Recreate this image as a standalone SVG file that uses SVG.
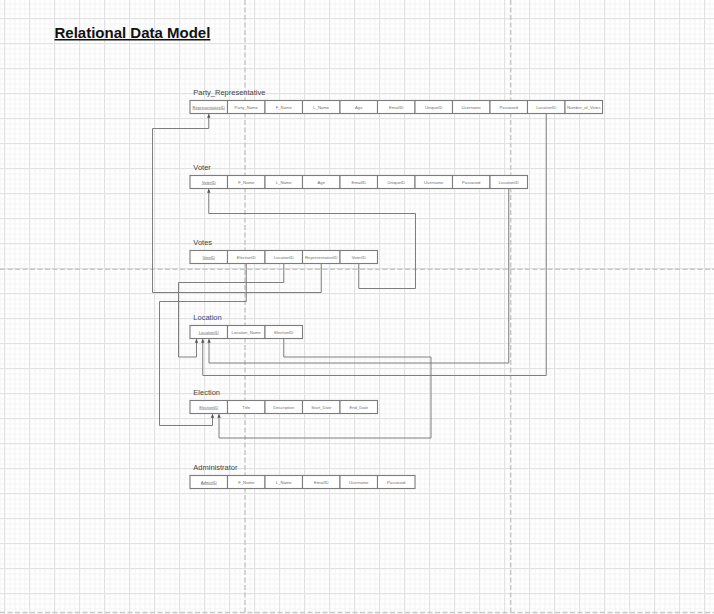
<svg xmlns="http://www.w3.org/2000/svg" width="714" height="614" viewBox="0 0 714 614">
<defs>
<pattern id="minor" width="5" height="5" patternUnits="userSpaceOnUse" x="4.5" y="3.5">
<path d="M0,0.5 H5 M0.5,0 V5" fill="none" stroke="#f3f3f3" stroke-width="1"/>
</pattern>
<pattern id="major" width="25" height="25" patternUnits="userSpaceOnUse" x="4" y="18">
<path d="M0,0.5 H25 M0.5,0 V25" fill="none" stroke="#e2e2e2" stroke-width="1"/>
</pattern>
<marker id="arr" markerWidth="4" markerHeight="4" refX="3.5" refY="2" orient="auto" markerUnits="userSpaceOnUse">
<path d="M0,0.3 L3.8,2 L0,3.7 z" fill="#555"/>
</marker>
</defs>
<style>
.pb{stroke:#c8c8c8;stroke-width:1.5;stroke-dasharray:5 2.5;fill:none}
.cell{fill:#fff;stroke:#7c7c7c;stroke-width:1.1}
.ct{font-family:"Liberation Sans",Arial,sans-serif;font-size:4.2px;fill:#707070;text-anchor:middle}
.pk{text-decoration:underline}
.ttl{font-family:"Liberation Sans",Arial,sans-serif;font-size:7.5px;fill:#444}
.conn{fill:none;stroke:#7e7e7e;stroke-width:1;marker-end:url(#arr)}
</style>
<rect width="714" height="614" fill="#fff"/>
<rect width="714" height="614" fill="url(#minor)"/>
<rect width="714" height="614" fill="url(#major)"/>
<g id="page-breaks">
<path class="pb" d="M245,0 V614 M510.7,0 V614 M0,269.3 H714 M0,612.5 H714"/>
</g>
<g id="title">
<text x="54.5" y="38" font-family="'Liberation Sans',Arial,sans-serif" font-size="15" font-weight="bold" fill="#111" text-decoration="underline">Relational Data Model</text>
</g>
<g id="connectors">
<path class="conn" d="M321.25,263.5 V292.5 H152.5 V128.5 H208.75 V114.2"/>
<path class="conn" d="M358.75,263.5 V288.5 H415.5 V213.5 H208.75 V189.2"/>
<path class="conn" d="M246.25,263.5 V301.5 H159.5 V425.5 H212.5 V414.2"/>
<path class="conn" d="M283.75,263.5 V282.5 H178.5 V357 H196.5 V339.2"/>
<path class="conn" d="M546.25,113.5 V375.5 H202.75 V339.2"/>
<path class="conn" d="M508.75,188.5 V363 H209 V339.2"/>
<path class="conn" d="M283.75,338.5 V357 H431 V438 H219 V414.2"/>
</g>
<g id="party_representative">
<text class="ttl" x="193.3" y="95.3">Party_Representative</text>
<rect class="cell" x="190" y="100.5" width="37.5" height="13"/><text class="ct pk" x="208.75" y="108.5">RepresentativeID</text>
<rect class="cell" x="227.5" y="100.5" width="37.5" height="13"/><text class="ct" x="246.25" y="108.5">Party_Name</text>
<rect class="cell" x="265" y="100.5" width="37.5" height="13"/><text class="ct" x="283.75" y="108.5">F_Name</text>
<rect class="cell" x="302.5" y="100.5" width="37.5" height="13"/><text class="ct" x="321.25" y="108.5">L_Name</text>
<rect class="cell" x="340" y="100.5" width="37.5" height="13"/><text class="ct" x="358.75" y="108.5">Age</text>
<rect class="cell" x="377.5" y="100.5" width="37.5" height="13"/><text class="ct" x="396.25" y="108.5">EmailID</text>
<rect class="cell" x="415" y="100.5" width="37.5" height="13"/><text class="ct" x="433.75" y="108.5">UniqueID</text>
<rect class="cell" x="452.5" y="100.5" width="37.5" height="13"/><text class="ct" x="471.25" y="108.5">Username</text>
<rect class="cell" x="490" y="100.5" width="37.5" height="13"/><text class="ct" x="508.75" y="108.5">Password</text>
<rect class="cell" x="527.5" y="100.5" width="37.5" height="13"/><text class="ct" x="546.25" y="108.5">LocationID</text>
<rect class="cell" x="565" y="100.5" width="37.5" height="13"/><text class="ct" x="583.75" y="108.5">Number_of_Votes</text>
</g>
<g id="voter">
<text class="ttl" x="193.3" y="170.3">Voter</text>
<rect class="cell" x="190" y="175.5" width="37.5" height="13"/><text class="ct pk" x="208.75" y="183.5">VoterID</text>
<rect class="cell" x="227.5" y="175.5" width="37.5" height="13"/><text class="ct" x="246.25" y="183.5">F_Name</text>
<rect class="cell" x="265" y="175.5" width="37.5" height="13"/><text class="ct" x="283.75" y="183.5">L_Name</text>
<rect class="cell" x="302.5" y="175.5" width="37.5" height="13"/><text class="ct" x="321.25" y="183.5">Age</text>
<rect class="cell" x="340" y="175.5" width="37.5" height="13"/><text class="ct" x="358.75" y="183.5">EmailID</text>
<rect class="cell" x="377.5" y="175.5" width="37.5" height="13"/><text class="ct" x="396.25" y="183.5">UniqueID</text>
<rect class="cell" x="415" y="175.5" width="37.5" height="13"/><text class="ct" x="433.75" y="183.5">Username</text>
<rect class="cell" x="452.5" y="175.5" width="37.5" height="13"/><text class="ct" x="471.25" y="183.5">Password</text>
<rect class="cell" x="490" y="175.5" width="37.5" height="13"/><text class="ct" x="508.75" y="183.5">LocationID</text>
</g>
<g id="votes">
<text class="ttl" x="193.3" y="245.3">Votes</text>
<rect class="cell" x="190" y="250.5" width="37.5" height="13"/><text class="ct pk" x="208.75" y="258.5">VoteID</text>
<rect class="cell" x="227.5" y="250.5" width="37.5" height="13"/><text class="ct" x="246.25" y="258.5">ElectionID</text>
<rect class="cell" x="265" y="250.5" width="37.5" height="13"/><text class="ct" x="283.75" y="258.5">LocationID</text>
<rect class="cell" x="302.5" y="250.5" width="37.5" height="13"/><text class="ct" x="321.25" y="258.5">RepresentativeID</text>
<rect class="cell" x="340" y="250.5" width="37.5" height="13"/><text class="ct" x="358.75" y="258.5">VoterID</text>
</g>
<g id="location">
<text class="ttl" x="193.3" y="320.3" style="fill:#2a4a7a">Location</text>
<rect class="cell" x="190" y="325.5" width="37.5" height="13"/><text class="ct pk" x="208.75" y="333.5">LocationID</text>
<rect class="cell" x="227.5" y="325.5" width="37.5" height="13"/><text class="ct" x="246.25" y="333.5">Location_Name</text>
<rect class="cell" x="265" y="325.5" width="37.5" height="13"/><text class="ct" x="283.75" y="333.5">ElectionID</text>
</g>
<g id="election">
<text class="ttl" x="193.3" y="395.3">Election</text>
<rect class="cell" x="190" y="400.5" width="37.5" height="13"/><text class="ct pk" x="208.75" y="408.5">ElectionID</text>
<rect class="cell" x="227.5" y="400.5" width="37.5" height="13"/><text class="ct" x="246.25" y="408.5">Title</text>
<rect class="cell" x="265" y="400.5" width="37.5" height="13"/><text class="ct" x="283.75" y="408.5">Description</text>
<rect class="cell" x="302.5" y="400.5" width="37.5" height="13"/><text class="ct" x="321.25" y="408.5">Start_Date</text>
<rect class="cell" x="340" y="400.5" width="37.5" height="13"/><text class="ct" x="358.75" y="408.5">End_Date</text>
</g>
<g id="administrator">
<text class="ttl" x="193.3" y="470.3">Administrator</text>
<rect class="cell" x="190" y="475.5" width="37.5" height="13"/><text class="ct pk" x="208.75" y="483.5">AdminID</text>
<rect class="cell" x="227.5" y="475.5" width="37.5" height="13"/><text class="ct" x="246.25" y="483.5">F_Name</text>
<rect class="cell" x="265" y="475.5" width="37.5" height="13"/><text class="ct" x="283.75" y="483.5">L_Name</text>
<rect class="cell" x="302.5" y="475.5" width="37.5" height="13"/><text class="ct" x="321.25" y="483.5">EmailID</text>
<rect class="cell" x="340" y="475.5" width="37.5" height="13"/><text class="ct" x="358.75" y="483.5">Username</text>
<rect class="cell" x="377.5" y="475.5" width="37.5" height="13"/><text class="ct" x="396.25" y="483.5">Password</text>
</g>
</svg>
